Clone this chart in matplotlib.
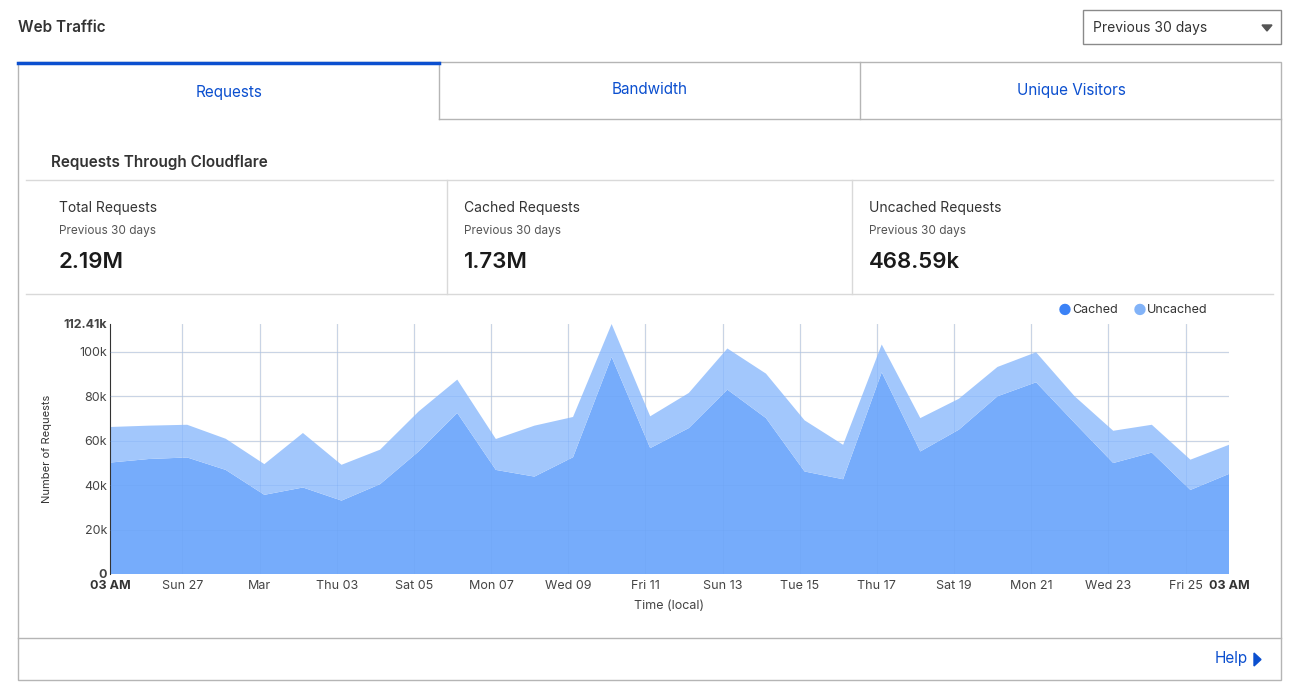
import matplotlib
matplotlib.use("Agg")
import matplotlib.pyplot as plt
from matplotlib.patches import Rectangle
import numpy as np

plt.rcParams['font.family'] = ['Inter', 'DejaVu Sans']

cached = [50.1, 51.7, 52.4, 46.8, 35.6, 38.9, 33.0, 40.4, 55.1, 72.4, 46.8, 43.8, 52.5, 97.6, 56.6,
          65.6, 82.9, 70.1, 46.1, 42.6, 90.7, 55.1, 64.9, 79.9, 86.2, 67.9, 49.9, 54.6, 37.8, 45.0]
total = [66.1, 66.7, 67.1, 60.8, 49.4, 63.4, 49.1, 55.9, 73.1, 87.4, 60.7, 66.7, 70.6, 112.4, 70.9,
         81.4, 101.4, 90.1, 69.1, 58.1, 103.2, 70.1, 78.8, 93.1, 99.7, 79.9, 64.4, 67.1, 51.4, 58.1]
uncached = [t - c for t, c in zip(total, cached)]
tick_labels = ["Sun 27", "Mar", "Thu 03", "Sat 05", "Mon 07", "Wed 09", "Fri 11", "Sun 13",
               "Tue 15", "Thu 17", "Sat 19", "Mon 21", "Wed 23", "Fri 25"]
stats = [("Total Requests", "2.19M"), ("Cached Requests", "1.73M"), ("Uncached Requests", "468.59k")]
tabs = ["Requests", "Bandwidth", "Unique Visitors"]

W, H = 1291, 689
fig = plt.figure(figsize=(W/100, H/100), dpi=100)
fig.patch.set_facecolor("white")

def fx(x): return x / W
def fy(y): return 1 - y / H

def rect(x0, y0, x1, y1, ec="#c9c9c9", fc="none", lw=1, z=0):
    fig.patches.append(Rectangle((fx(x0), fy(y1)), fx(x1)-fx(x0), fy(y0)-fy(y1),
                                 transform=fig.transFigure, ec=ec, fc=fc, lw=lw, zorder=z))

def hline(x0, x1, y, c="#d9d9d9", lw=1):
    fig.add_artist(plt.Line2D([fx(x0), fx(x1)], [fy(y), fy(y)], color=c, lw=lw, transform=fig.transFigure))

def vline(x, y0, y1, c="#d9d9d9", lw=1):
    fig.add_artist(plt.Line2D([fx(x), fx(x)], [fy(y0), fy(y1)], color=c, lw=lw, transform=fig.transFigure))

def txt(x, y, s, size, color="#333333", weight="normal", ha="left", va="center"):
    fig.text(fx(x), fy(y), s, fontsize=size, color=color, fontweight=weight, ha=ha, va=va)

txt(18, 27, "Web Traffic", 11, "#333333", "semibold")
rect(1083, 10, 1281, 44, ec="#8a8a8a", fc="white")
txt(1093, 28, "Previous 30 days", 10, "#333333")
fig.add_artist(plt.Polygon([[fx(1262), fy(25)], [fx(1272), fy(25)], [fx(1267), fy(31)]],
                           closed=True, color="#555555", transform=fig.transFigure))

rect(18, 62, 1281, 680, ec="#b5b5b5")
# tabs
hline(439, 1281, 119, "#b5b5b5")
vline(439, 62, 119, "#b5b5b5")
vline(860, 62, 119, "#b5b5b5")
hline(18, 439, 62.5, "#0b4fcf", 2.5)
for i, t in enumerate(tabs):
    txt(229 + i*421 - (i > 0)*0, 92 if i == 0 else 90, t, 11, "#0b4fcf", ha="center")

txt(51, 162, "Requests Through Cloudflare", 11, "#333333", "semibold")
hline(26, 1273, 180)
hline(26, 1273, 294)
vline(447, 180, 294)
vline(852, 180, 294)
for i, (lab, val) in enumerate(stats):
    x0 = [59, 464, 869][i]
    txt(x0, 208, lab, 10, "#333333")
    txt(x0, 231, "Previous 30 days", 8.5, "#555555")
    txt(x0, 262, val, 16, "#1a1a1a", "semibold")

hline(18, 1281, 638, "#b5b5b5")
txt(1215, 659, "Help", 11, "#0b4fcf")
fig.add_artist(plt.Polygon([[fx(1254), fy(653)], [fx(1254), fy(666)], [fx(1261), fy(659.5)]],
                           closed=True, color="#0b4fcf", transform=fig.transFigure))

# chart
ax = fig.add_axes([fx(110), fy(574), fx(1229)-fx(110), fy(324)-fy(574)])
x = np.arange(len(cached))
ax.stackplot(x, cached, uncached, colors=["#76acfb", "#a2c7fc"], lw=0, zorder=2)
ymax = 112.41
ax.set_xlim(0, len(cached) - 1)
ax.set_ylim(0, ymax)
ticks = [1.875 + 2*k for k in range(len(tick_labels))]
for t in ticks:
    ax.axvline(t, color="#e3e3e3", lw=1, zorder=1)
    ax.axvline(t, color="#6aa0ee", lw=0.6, alpha=0.25, zorder=3)
for yv in range(20, 101, 20):
    ax.axhline(yv, color="#e3e3e3", lw=1, zorder=1)
    ax.axhline(yv, color="#6aa0ee", lw=0.6, alpha=0.25, zorder=3)
ax.set_xticks([0] + ticks + [len(cached) - 1])
ax.set_xticklabels(["03 AM"] + tick_labels + ["03 AM"], fontsize=9, color="#444444")
for lab in (ax.get_xticklabels()[0], ax.get_xticklabels()[-1]):
    lab.set_fontweight("bold"); lab.set_color("#333333")
ax.set_yticks([0, 20, 40, 60, 80, 100, ymax])
ax.set_yticklabels(["0", "20k", "40k", "60k", "80k", "100k", "112.41k"], fontsize=9, color="#444444")
ax.get_yticklabels()[-1].set_fontweight("bold")
ax.get_yticklabels()[0].set_fontweight("bold")
ax.tick_params(length=0, pad=4)
ax.tick_params(axis="y", pad=2)
for s in ["top", "right", "bottom"]:
    ax.spines[s].set_visible(False)
ax.spines["left"].set_color("#333333")
ax.set_ylabel("Number of Requests", fontsize=8, color="#333333", labelpad=8)
ax.set_xlabel("Time (local)", fontsize=9, color="#444444", labelpad=6)

# legend
fig.add_artist(plt.Circle((fx(1064), fy(310)), 0, transform=fig.transFigure))
fig.text(fx(1058), fy(310), "●", fontsize=11, color="#3b82f6", va="center", ha="left")
txt(1072, 310, "Cached", 9, "#333333")
fig.text(fx(1133), fy(310), "●", fontsize=11, color="#82b3f8", va="center", ha="left")
txt(1147, 310, "Uncached", 9, "#333333")

fig.savefig("out.png", dpi=100, facecolor="white")
